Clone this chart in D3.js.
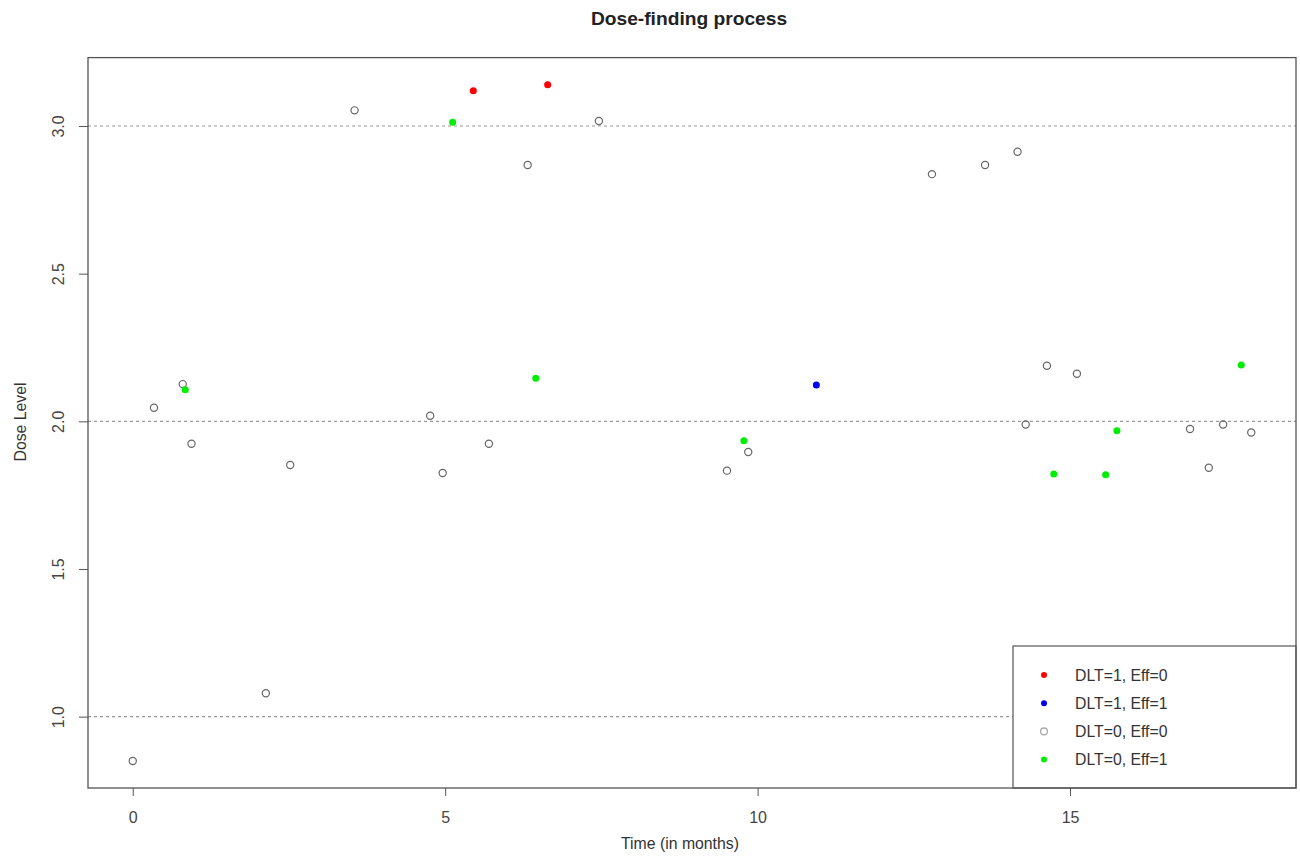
<!DOCTYPE html>
<html>
<head>
<meta charset="utf-8">
<script src="https://cdn.jsdelivr.net/npm/d3@7"></script>
<style>
  html, body { margin: 0; padding: 0; background: #fff; }
  svg { display: block; font-family: "Liberation Sans", Arial, sans-serif; }
</style>
</head>
<body>
<svg id="chart" width="1300" height="859"></svg>
<script>
// ---- data ----
const times = [0.00, 0.34, 0.80, 0.84, 0.94, 2.13, 2.52, 3.55, 4.76, 4.96, 5.12, 5.45, 5.70, 6.32, 6.45, 6.64, 7.46,
               9.51, 9.78, 9.85, 10.94, 12.79, 13.64, 14.16, 14.29, 14.63, 14.74, 15.11, 15.75, 15.57, 16.92, 17.22, 17.45, 17.74, 17.90];
const doseLevels = [0.850, 2.046, 2.126, 2.107, 1.924, 1.079, 1.852, 3.053, 2.019, 1.825, 3.013, 3.119, 1.924, 2.868, 2.146, 3.140, 3.017,
               1.833, 1.934, 1.896, 2.123, 2.837, 2.868, 2.913, 1.989, 2.188, 1.822, 2.161, 1.968, 1.819, 1.974, 1.843, 1.989, 2.191, 1.962];
// outcome group index: 0 = DLT=1,Eff=0 ; 1 = DLT=1,Eff=1 ; 2 = DLT=0,Eff=0 ; 3 = DLT=0,Eff=1
const outcomes = [2, 2, 2, 3, 2, 2, 2, 2, 2, 2, 3, 0, 2, 2, 3, 0, 2,
               2, 3, 2, 1, 2, 2, 2, 2, 2, 3, 2, 3, 3, 2, 2, 2, 3, 2];
const legendLabels = ["DLT=1, Eff=0", "DLT=1, Eff=1", "DLT=0, Eff=0", "DLT=0, Eff=1"];
const groupColors = ["#ff0000", "#0000ff", "#666666", "#00ee00"];
const xTicks = [0, 5, 10, 15];
const yTicks = [1.0, 1.5, 2.0, 2.5, 3.0];
const refLines = [1, 2, 3];

const points = times.map((t, i) => ({ t, v: doseLevels[i], g: outcomes[i] }));

// ---- layout ----
const svg = d3.select("#chart");
const pLeft = 88, pRight = 1296, pTop = 57.6, pBottom = 788;
const FONT = "Liberation Sans, Arial, sans-serif";

function padded(ext) { const r = ext[1] - ext[0]; return [ext[0] - 0.04 * r, ext[1] + 0.04 * r]; }
const x = d3.scaleLinear().domain(padded(d3.extent(times))).range([pLeft, pRight]);
const y = d3.scaleLinear().domain(padded(d3.extent(doseLevels))).range([pBottom, pTop]);

// reference dashed lines
svg.append("g").selectAll("line").data(refLines).join("line")
  .attr("x1", pLeft).attr("x2", pRight)
  .attr("y1", d => y(d)).attr("y2", d => y(d))
  .attr("stroke", "#999").attr("stroke-width", 1.2).attr("stroke-dasharray", "3,3");

// points
const g = svg.append("g");
points.forEach(p => {
  if (p.g === 2) {
    g.append("circle").attr("cx", x(p.t)).attr("cy", y(p.v)).attr("r", 3.6)
      .attr("fill", "none").attr("stroke", groupColors[2]).attr("stroke-width", 1.2);
  } else {
    g.append("circle").attr("cx", x(p.t)).attr("cy", y(p.v)).attr("r", 3.5)
      .attr("fill", groupColors[p.g]);
  }
});

// axes
const xAxis = svg.append("g").attr("transform", `translate(0,${pBottom})`)
  .call(d3.axisBottom(x).tickValues(xTicks).tickFormat(d3.format("d")).tickSizeOuter(0).tickSizeInner(8));
xAxis.select(".domain").remove();
xAxis.selectAll("line").attr("stroke", "#555");
xAxis.selectAll("text").attr("font-size", 16).attr("fill", "#444").attr("font-family", FONT)
  .attr("y", 29).attr("dy", "0.35em");

const yAxis = svg.append("g").attr("transform", `translate(${pLeft},0)`)
  .call(d3.axisLeft(y).tickValues(yTicks).tickFormat(d3.format(".1f")).tickSizeOuter(0).tickSizeInner(9));
yAxis.select(".domain").remove();
yAxis.selectAll("line").attr("stroke", "#555");
yAxis.selectAll("text")
  .attr("font-size", 16).attr("fill", "#444").attr("font-family", FONT)
  .attr("x", null)
  .attr("text-anchor", "middle")
  .attr("transform", "translate(-30,0) rotate(-90)")
  .attr("dy", "0.35em");

// legend (drawn with white background)
const lgX0 = x.invert(1013), lgY0 = y.invert(646);
const lg = svg.append("g");
lg.append("rect").attr("x", x(lgX0)).attr("y", y(lgY0))
  .attr("width", pRight - x(lgX0)).attr("height", pBottom - y(lgY0))
  .attr("fill", "#fff").attr("stroke", "#555").attr("stroke-width", 1.2);
legendLabels.forEach((lab, i) => {
  const cy = 675 + i * 28.2;
  if (i === 2) {
    lg.append("circle").attr("cx", 1044).attr("cy", cy).attr("r", 3.4)
      .attr("fill", "none").attr("stroke", "#aaa").attr("stroke-width", 1.3);
  } else {
    lg.append("circle").attr("cx", 1044).attr("cy", cy).attr("r", 3.0).attr("fill", groupColors[i]);
  }
  lg.append("text").attr("x", 1075).attr("y", cy).attr("dy", "0.35em")
    .attr("font-size", 15.8).attr("fill", "#333").text(lab);
});

// plot box
svg.append("rect").attr("x", pLeft).attr("y", pTop).attr("width", pRight - pLeft).attr("height", pBottom - pTop)
  .attr("fill", "none").attr("stroke", "#555").attr("stroke-width", 1.3);

// titles
svg.append("text").attr("x", 689).attr("y", 25).attr("text-anchor", "middle")
  .attr("font-size", 19.2).attr("font-weight", "bold").attr("fill", "#222").text("Dose-finding process");
svg.append("text").attr("x", 680).attr("y", 848.5).attr("text-anchor", "middle")
  .attr("font-size", 15.8).attr("fill", "#333").text("Time (in months)");
svg.append("text").attr("transform", "translate(20,422) rotate(-90)").attr("text-anchor", "middle")
  .attr("dy", "0.35em")
  .attr("font-size", 15.8).attr("fill", "#333").text("Dose Level");
</script>
</body>
</html>
